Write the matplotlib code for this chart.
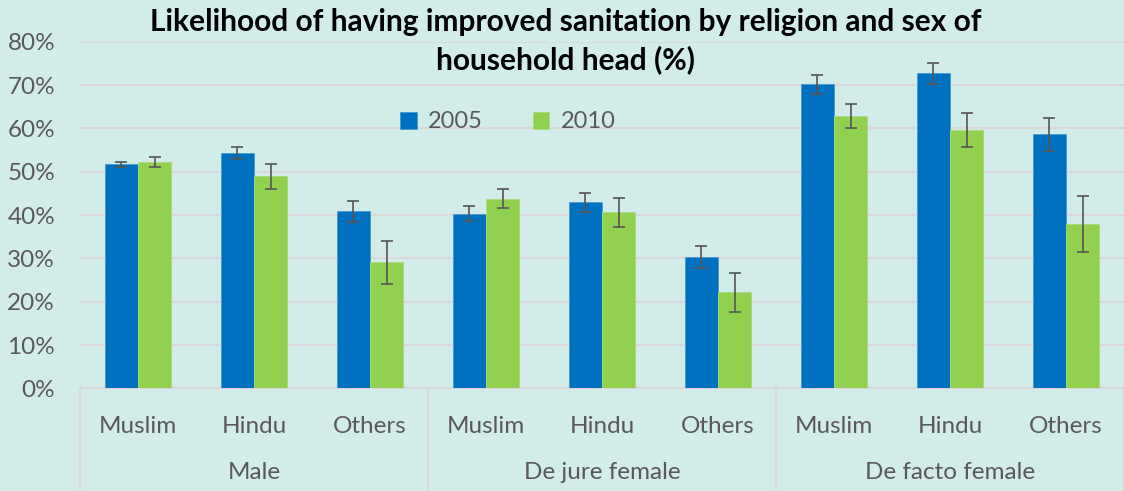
import matplotlib.pyplot as plt
import matplotlib.transforms as mtransforms
import numpy as np

plt.rcParams['font.family'] = ['Lato', 'DejaVu Sans']

groups = ['Male', 'De jure female', 'De facto female']
religions = ['Muslim', 'Hindu', 'Others']

v2005 = [51.7, 54.3, 40.9, 40.3, 42.9, 30.3, 70.2, 72.7, 58.6]
e2005 = [0.5, 1.35, 2.4, 1.7, 2.15, 2.6, 2.2, 2.5, 3.8]
v2010 = [52.2, 48.9, 29.1, 43.8, 40.6, 22.2, 62.9, 59.6, 37.9]
e2010 = [1.1, 2.85, 5.0, 2.1, 3.3, 4.5, 2.8, 4.0, 6.5]

bg = '#d2ecea'
blue = '#0070c0'
green = '#92d050'
grey_txt = '#595959'
grid_c = '#d9d9d9'

fig = plt.figure(figsize=(11.24, 4.91), dpi=100)
fig.patch.set_facecolor(bg)
ax = fig.add_axes([80/1124, 1-388.4/491, 1-80/1124, 346.7/491])
ax.set_facecolor(bg)

x = np.arange(len(v2005))
w = 0.285
ekw = dict(ecolor='#555555', elinewidth=1.2, capsize=4, capthick=1.2)
ax.bar(x - w/2, np.array(v2005)/100, w, yerr=np.array(e2005)/100, color=blue,
       edgecolor='#4a9ad0', linewidth=0.6, label='2005', error_kw=ekw, zorder=3)
ax.bar(x + w/2, np.array(v2010)/100, w, yerr=np.array(e2010)/100, color=green,
       edgecolor='#a8dc78', linewidth=0.6, label='2010', error_kw=ekw, zorder=3)

ax.set_xlim(-0.5, len(x) - 0.5)
ax.set_ylim(0, 0.8)
ax.set_yticks(np.arange(0, 0.81, 0.1))
ax.set_yticklabels([f'{int(round(t*100))}%' for t in np.arange(0, 0.81, 0.1)])
ax.yaxis.grid(True, color=grid_c, lw=1.5, zorder=0)
ax.set_axisbelow(True)
for s in ['left', 'right', 'top']:
    ax.spines[s].set_visible(False)
ax.spines['bottom'].set_color(grid_c)
ax.spines['bottom'].set_linewidth(1.5)
ax.tick_params(axis='y', length=0, pad=18, labelsize=17.5, labelcolor=grey_txt)

ax.set_xticks(x)
ax.set_xticklabels(religions * 3)
ax.tick_params(axis='x', length=0, pad=20, labelsize=17.5, labelcolor=grey_txt)

trans = mtransforms.blended_transform_factory(ax.transData, ax.transAxes)
for sep in [-0.5, 2.5, 5.5, 8.5]:
    ax.plot([sep, sep], [0, -0.3], transform=trans, color=grid_c, lw=1.5, clip_on=False)
for i, g in enumerate(groups):
    ax.text(3*i + 1, -0.243, g, transform=trans, ha='center', va='center',
            fontsize=17.5, color=grey_txt)

leg = ax.legend(loc='center', bbox_to_anchor=(508/1124, 1-122/491), bbox_transform=fig.transFigure,
                ncol=2, frameon=False, fontsize=17, handlelength=0.7, handleheight=0.7,
                columnspacing=2.1, handletextpad=0.5, labelcolor=grey_txt)

fig.text(566/1124, 1-41/491, 'Likelihood of having improved sanitation by religion and sex of\nhousehold head (%)',
         ha='center', va='center', fontsize=21.5, fontweight='bold', color='black', linespacing=1.4)

fig.savefig('out.png', dpi=100, facecolor=bg)
